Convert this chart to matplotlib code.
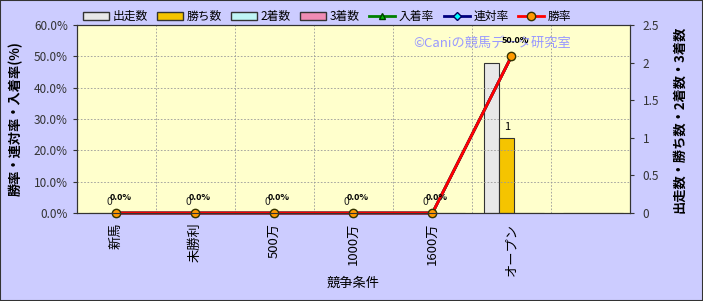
import numpy as np
import matplotlib.pyplot as plt
from matplotlib.lines import Line2D
from matplotlib.patches import Patch

plt.rcParams['font.family'] = ['Noto Sans CJK JP', 'DejaVu Sans']

categories = ["新馬", "未勝利", "500万", "1000万", "1600万", "オープン", ""]
starts = [0, 0, 0, 0, 0, 2, np.nan]      # 出走数
wins = [0, 0, 0, 0, 0, 1, np.nan]        # 勝ち数
seconds = [0, 0, 0, 0, 0, 0, np.nan]     # 2着数
thirds = [0, 0, 0, 0, 0, 0, np.nan]      # 3着数
place_rate = [0, 0, 0, 0, 0, 0.5, np.nan]   # 入着率
quin_rate = [0, 0, 0, 0, 0, 0.5, np.nan]    # 連対率
win_rate = [0, 0, 0, 0, 0, 0.5, np.nan]     # 勝率

fig = plt.figure(figsize=(7.03, 3.01), dpi=100, facecolor="#ccccff")
ax = fig.add_axes([0.1095, 0.2924, 0.7866, 0.6246])
ax2 = ax.twinx()
ax.set_zorder(ax2.get_zorder() + 1)
ax.patch.set_visible(False)
ax2.patch.set_visible(True)
ax2.patch.set_facecolor("#ffffcc")

x = np.arange(len(categories))
w = 0.19
shift = 0.035
bar_sets = [(starts, "#e8e8e8"), (wins, "#f5c400"), (seconds, "#bff5f5"), (thirds, "#f08cb4")]
for i, (vals, col) in enumerate(bar_sets):
    v = np.nan_to_num(np.array(vals, dtype=float))
    ax2.bar(x + (i - 1.5) * w + shift, v, w, color=col, edgecolor="#333333", linewidth=0.8)

ax2.set_ylim(0, 2.5)
ax2.set_yticks([0, 0.5, 1, 1.5, 2, 2.5])
ax2.set_yticklabels(["0", "0.5", "1", "1.5", "2", "2.5"])

# bar labels
for i in range(5):
    ax2.text(x[i] - 0.09, 0.08, "0", fontsize=7.5, ha="center", va="bottom", color="#222222")
ax2.text(x[5] - 0.5 * w + shift, wins[5] + 0.08, "1", fontsize=8, ha="center", va="bottom")

ax.plot(x, place_rate, color="#008000", lw=2, marker="^", ms=5, mfc="#00c000", mec="#004000", clip_on=False)
ax.plot(x, quin_rate, color="#000080", lw=2, marker="D", ms=4, mfc="#00ffff", mec="#000060", clip_on=False)
ax.plot(x, win_rate, color="#ff0000", lw=2, marker="o", ms=6, mfc="#ff9900", mec="#333300", clip_on=False)

for i in range(6):
    ax.text(x[i] + 0.05, win_rate[i] + 0.035, f"{win_rate[i]*100:.1f}%", fontsize=6.5,
            fontweight="bold", ha="center", va="bottom")

ax.set_xlim(-0.5, 6.5)
ax.set_ylim(0, 0.6)
ax.set_yticks(np.arange(0, 0.61, 0.1))
ax.set_yticklabels([f"{v*100:.1f}%" for v in np.arange(0, 0.61, 0.1)])
ax.set_xticks(x)
ax.set_xticklabels(categories, rotation=90)
ax.set_xticks(np.arange(0.5, 6.5, 1), minor=True)
ax.grid(True, which="minor", axis="x", color="#999999", ls=(0, (2, 2)), lw=0.6)
ax.grid(True, which="major", axis="y", color="#999999", ls=(0, (2, 2)), lw=0.6)
ax.tick_params(axis="x", which="both", length=0, labelsize=9.5, pad=7)
ax.tick_params(axis="y", labelsize=8.5, colors="#333333", length=3)
ax2.tick_params(axis="y", labelsize=8.5, colors="#333333", length=3, pad=6)
for a in (ax, ax2):
    for s in a.spines.values():
        s.set_color("#333333")

ax.set_xlabel("競争条件", fontsize=9.5, labelpad=1)
ax.set_ylabel("勝率・連対率・入着率(%)", fontsize=9.5, fontweight="bold", labelpad=8)
ax2.set_ylabel("出走数・勝ち数・2着数・3着数", fontsize=9.5, fontweight="bold", labelpad=10)

ax.text(0.75, 0.9, "©Caniの競馬データ研究室", transform=ax.transAxes, fontsize=9.5,
        color="#9999ff", ha="center", va="center", zorder=0)

handles = [
    Patch(facecolor="#e8e8e8", edgecolor="#333333", label="出走数"),
    Patch(facecolor="#f5c400", edgecolor="#333333", label="勝ち数"),
    Patch(facecolor="#bff5f5", edgecolor="#333333", label="2着数"),
    Patch(facecolor="#f08cb4", edgecolor="#333333", label="3着数"),
    Line2D([], [], color="#008000", lw=2, marker="^", ms=5, mfc="#00c000", mec="#004000", label="入着率"),
    Line2D([], [], color="#000080", lw=2, marker="D", ms=4, mfc="#00ffff", mec="#000060", label="連対率"),
    Line2D([], [], color="#ff0000", lw=2, marker="o", ms=6, mfc="#ff9900", mec="#333300", label="勝率"),
]
fig.legend(handles=handles, loc="center", bbox_to_anchor=(0.465, 0.945), ncol=7, frameon=False,
           fontsize=8.5, handlelength=2.2, handleheight=0.6, columnspacing=0.8, handletextpad=0.3)

fig.patches.append(plt.Rectangle((0, 0), 1, 1, transform=fig.transFigure, fill=False,
                                 edgecolor="#333333", lw=1.5))
fig.savefig("out.png", dpi=100, facecolor=fig.get_facecolor())
